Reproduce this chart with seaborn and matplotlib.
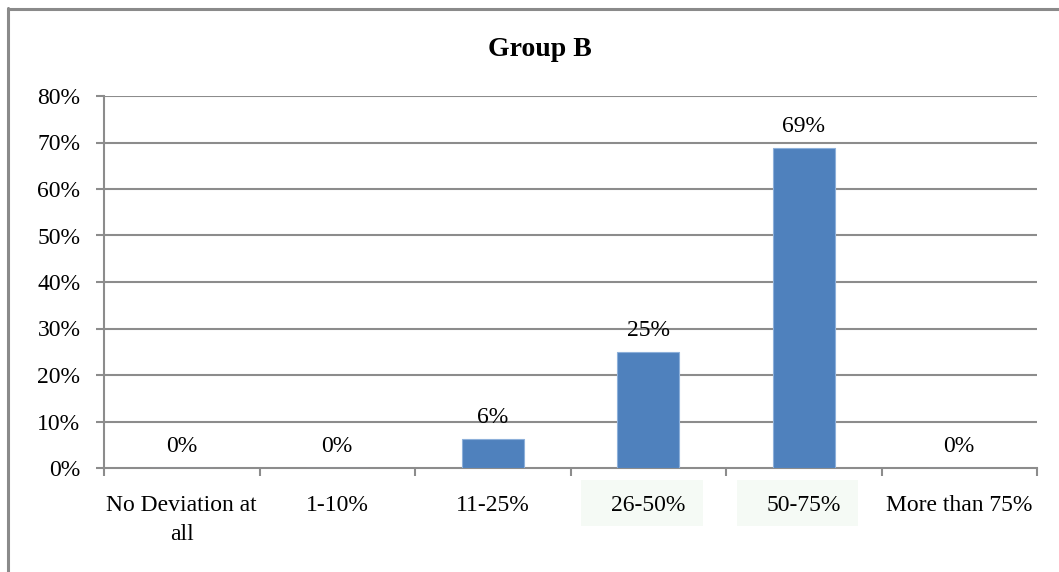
import matplotlib
matplotlib.use("Agg")
import matplotlib.pyplot as plt
from matplotlib.lines import Line2D
from matplotlib.patches import Rectangle
import seaborn as sns
import pandas as pd

# Deviation categories and share of respondents (percent)
categories = ["No Deviation at\nall", "1-10%", "11-25%", "26-50%", "50-75%", "More than 75%"]
shares = [0, 0, 6.25, 25, 68.75, 0]
y_ticks = [0, 10, 20, 30, 40, 50, 60, 70, 80]
title = "Group B"

sns.set_theme(style="white")
plt.rcParams["font.family"] = ["Liberation Serif", "DejaVu Serif"]

W, H = 1059, 572
FS = 17
fig = plt.figure(figsize=(W / 100, H / 100), dpi=100)
fig.patch.set_facecolor("white")

ax = fig.add_axes([104 / W, 1 - 468 / H, (1037 - 104) / W, (468 - 96) / H])

df = pd.DataFrame({"category": categories, "share": shares})
sns.barplot(data=df, x="category", y="share", color="#4f81bd", saturation=1,
            width=0.4, edgecolor="#8db0da", linewidth=0.8, ax=ax, zorder=3)

ax.set_xlim(-0.5, len(categories) - 0.5)
ax.set_ylim(0, 80)
ax.set_yticks(y_ticks)
ax.set_yticklabels([f"{t}%" for t in y_ticks], fontsize=FS)
ax.set_xlabel("")
ax.set_ylabel("")

# horizontal gridlines
for t in y_ticks[1:]:
    ax.axhline(t, color="#8c8c8c", lw=1.5, zorder=1)

for side in ["top", "right"]:
    ax.spines[side].set_visible(False)
for side in ["left", "bottom"]:
    ax.spines[side].set_color("#8c8c8c")
    ax.spines[side].set_linewidth(1.5)

ax.tick_params(axis="y", left=True, length=6, width=1.5, color="#8c8c8c",
               pad=11, labelsize=FS, labelcolor="black")

# category boundary ticks on the x axis, labels centred between them
ax.set_xticks([i - 0.5 for i in range(len(categories) + 1)], minor=False)
ax.set_xticklabels([""] * (len(categories) + 1))
ax.tick_params(axis="x", bottom=True, length=6, width=1.5, color="#8c8c8c",
               direction="out")
for i, lab in enumerate(categories):
    ax.text(i, -5.9, lab, ha="center", va="top", fontsize=FS, color="black",
            linespacing=1.5, zorder=5)

# light highlight behind two category labels
for i in [3, 4]:
    ax.add_patch(Rectangle((i - 0.43, -12.5), 0.78, 9.9, transform=ax.transData,
                           facecolor="#f5faf5", edgecolor="none",
                           clip_on=False, zorder=2))

# value labels above bars
for i, v in enumerate(shares):
    ax.text(i, v + 2.4, f"{v:.0f}%", ha="center", va="bottom", fontsize=FS,
            color="black", zorder=5)

fig.text(540 / W, 1 - 49 / H, title, ha="center", va="center",
         fontsize=20, fontweight="bold", color="black")

# chart frame
fig.add_artist(Line2D([8 / W, 8 / W], [0, 1 - 8 / H], transform=fig.transFigure,
                      color="#8a8a8a", lw=2.2))
fig.add_artist(Line2D([8 / W, 1], [1 - 9 / H, 1 - 9 / H], transform=fig.transFigure,
                      color="#8a8a8a", lw=2.2))

fig.savefig("out.png", dpi=100, facecolor="white")
